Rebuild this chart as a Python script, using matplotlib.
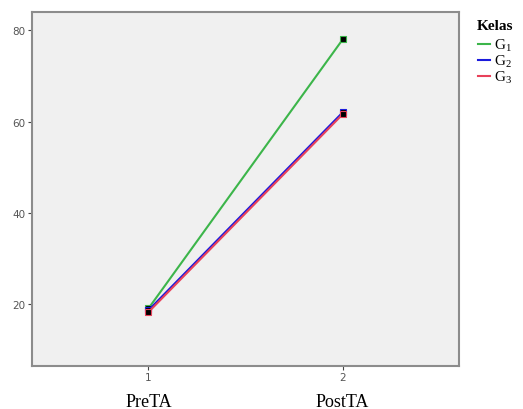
import matplotlib
matplotlib.use("Agg")
import matplotlib.pyplot as plt

waktu = [1, 2]
kategori = ["PreTA", "PostTA"]
kelas = ["G$_1$", "G$_2$", "G$_3$"]
g1 = [19.0, 78.0]
g2 = [18.6, 62.0]
g3 = [18.2, 61.6]
warna = ["#3cb54a", "#1a1adc", "#e8415a"]

plt.rcParams["mathtext.fontset"] = "custom"
plt.rcParams["mathtext.rm"] = "Liberation Serif"
plt.rcParams["mathtext.it"] = "Liberation Serif"

fig = plt.figure(figsize=(5.23, 4.10), dpi=100)
ax = fig.add_axes([0.061, 0.105, 0.817, 0.863])
ax.set_facecolor("#f0f0f0")

garis = []
for nilai, w, nama in zip([g1, g2, g3], warna, kelas):
    l, = ax.plot(waktu, nilai, color=w, lw=1.5, label=nama)
    ax.plot(waktu, nilai, ls="none", marker="s", ms=4, mfc="black", mec=w, mew=0.8)
    garis.append(l)

ax.set_xlim(0.4, 2.6)
ax.set_ylim(6.4, 84)
ax.set_yticks([20, 40, 60, 80])
ax.set_xticks(waktu)
ax.tick_params(labelsize=7.5, color="#444444", length=3, width=0.8, labelcolor="#555555", pad=1.5)
for s in ax.spines.values():
    s.set_color("#8c8c8c")
    s.set_linewidth(1.5)

for x, k in zip(waktu, kategori):
    ax.text(x, -0.1, k, transform=ax.get_xaxis_transform(), ha="center", va="center",
            fontsize=13, family="Liberation Serif")

fig.text(0.912, 1 - 27 / 410, "Kelas", ha="left", va="center", fontsize=11,
         fontweight="bold", family="Liberation Serif")
leg = fig.legend(handles=garis, loc="upper left", bbox_to_anchor=(0.914, 1 - 38 / 410), frameon=False,
                 prop={"family": "Liberation Serif", "size": 11},
                 handlelength=0.8, handletextpad=0.25, labelspacing=0.0, borderpad=0, borderaxespad=0)

fig.savefig("out.png", dpi=100)
